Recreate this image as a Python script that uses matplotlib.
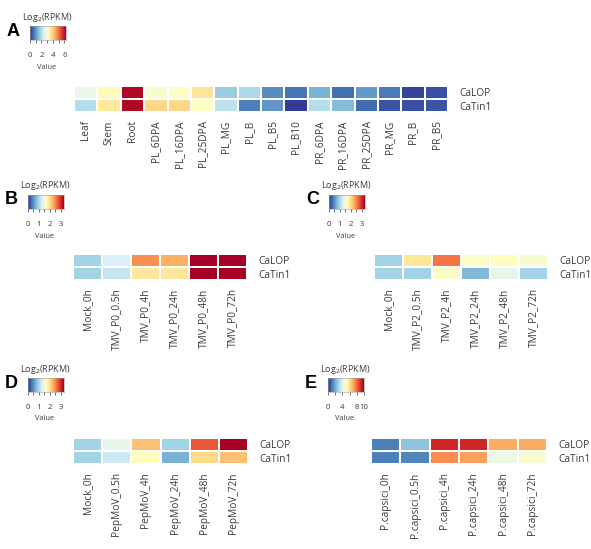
import numpy as np
import matplotlib
matplotlib.use('Agg')
from matplotlib import pyplot as plt

plt.rcParams['font.family'] = ['Open Sans', 'DejaVu Sans']

genes = ['CaLOP', 'CaTin1']

# A - tissues
a_samples = ['Leaf', 'Stem', 'Root', 'PL_6DPA', 'PL_16DPA', 'PL_25DPA', 'PL_MG',
             'PL_B', 'PL_B5', 'PL_B10', 'PR_6DPA', 'PR_16DPA', 'PR_25DPA',
             'PR_MG', 'PR_B', 'PR_B5']
a_calop = [2.7, 3.2, 6.2, 3.0, 3.1, 3.7, 1.7, 1.9, 0.9, 0.65, 1.35, 0.6, 1.05, 0.7, 0.15, 0.25]
a_catin1 = [2.0, 3.6, 6.2, 3.9, 3.9, 3.1, 2.1, 0.75, 1.0, 0.05, 2.0, 1.5, 0.55, 0.3, 0.25, 0.3]

# B - TMV P0
b_samples = ['Mock_0h', 'TMV_P0_0.5h', 'TMV_P0_4h', 'TMV_P0_24h', 'TMV_P0_48h', 'TMV_P0_72h']
b_calop = [0.95, 1.3, 2.45, 2.3, 3.3, 3.3]
b_catin1 = [0.95, 1.15, 1.9, 1.9, 3.3, 3.3]

# C - TMV P2
c_samples = ['Mock_0h', 'TMV_P2_0.5h', 'TMV_P2_4h', 'TMV_P2_24h', 'TMV_P2_48h', 'TMV_P2_72h']
c_calop = [0.95, 1.9, 2.6, 1.6, 1.65, 1.55]
c_catin1 = [0.95, 0.95, 1.6, 0.75, 1.4, 0.95]

# D - PepMoV
d_samples = ['Mock_0h', 'PepMoV_0.5h', 'PepMoV_4h', 'PepMoV_24h', 'PepMoV_48h', 'PepMoV_72h']
d_calop = [0.95, 1.4, 2.2, 0.95, 2.75, 3.3]
d_catin1 = [0.95, 1.2, 1.65, 0.7, 2.0, 2.2]

# E - P. capsici
e_samples = ['P.capsici_0h', 'P.capsici_0.5h', 'P.capsici_4h', 'P.capsici_24h',
             'P.capsici_48h', 'P.capsici_72h']
e_calop = [1.2, 2.5, 9.2, 9.2, 7.0, 7.0]
e_catin1 = [1.2, 1.3, 7.5, 7.2, 4.4, 4.7]

W, H = 591, 549
fig = plt.figure(figsize=(W / 100, H / 100), dpi=100)
cmap = plt.get_cmap('RdYlBu_r')
txt = '#3a3a3a'


def px_axes(x0, y0, x1, y1):
    return fig.add_axes([x0 / W, 1 - y1 / H, (x1 - x0) / W, (y1 - y0) / H])


def heat(box, samples, row1, row2, vmax):
    ax = px_axes(*box)
    data = np.array([row1, row2])
    ax.pcolormesh(data, cmap=cmap, vmin=0, vmax=vmax,
                  edgecolors='white', linewidth=0.2)
    ax.set_xlim(0, len(samples))
    ax.set_ylim(2, 0)
    ax.set_xticks(np.arange(len(samples)) + 0.5)
    ax.set_xticklabels(samples, rotation=90, fontsize=7.3, color=txt)
    ax.set_yticks([0.5, 1.5])
    ax.set_yticklabels(genes, fontsize=7.3, color=txt)
    ax.yaxis.tick_right()
    ax.tick_params(length=0, pad=6)
    ax.tick_params(axis='y', pad=8)
    for s in ax.spines.values():
        s.set_visible(False)
    return ax


def legend(x0, y0, letter, vmax, ticks, minor):
    cax = px_axes(x0, y0, x0 + 36, y0 + 14)
    grad = np.linspace(0, vmax, 256).reshape(1, -1)
    cax.imshow(grad, cmap=cmap, vmin=0, vmax=vmax, aspect='auto',
               extent=[0, vmax, 0, 1])
    cax.set_yticks([])
    cax.set_xticks(ticks)
    cax.set_xticklabels([str(t) for t in ticks], fontsize=5.6, color=txt)
    cax.set_xticks(minor, minor=True)
    cax.tick_params(axis='x', which='both', direction='out', length=2.5,
                    width=0.6, color='#555555', pad=6)
    for s in cax.spines.values():
        s.set_linewidth(0.4)
        s.set_color('#999999')
    fig.text((x0 + 17) / W, 1 - (y0 - 9) / H, r'Log$_2$(RPKM)', fontsize=6.5,
             color=txt, ha='center', va='center')
    fig.text((x0 + 17) / W, 1 - (y0 + 41) / H, 'Value', fontsize=5.3,
             color=txt, ha='center', va='center')
    fig.text((x0 - 23) / W, 1 - (y0 + 5) / H, letter, fontsize=13,
             fontweight='bold', family='Liberation Sans', color='black',
             ha='left', va='center')


legend(30, 26, 'A', 6.3, [0, 2, 4, 6], [1, 3, 5])
heat((74, 86, 448, 112), a_samples, a_calop, a_catin1, 6.3)

legend(28, 195, 'B', 3.3, [0, 1, 2, 3], [0.5, 1.5, 2.5])
heat((73, 254, 247, 280), b_samples, b_calop, b_catin1, 3.3)

legend(329, 195, 'C', 3.3, [0, 1, 2, 3], [0.5, 1.5, 2.5])
heat((374, 254, 548, 280), c_samples, c_calop, c_catin1, 3.3)

legend(28, 378, 'D', 3.3, [0, 1, 2, 3], [0.5, 1.5, 2.5])
heat((73, 438, 248, 464), d_samples, d_calop, d_catin1, 3.3)

legend(328, 378, 'E', 10, [0, 4, 8, 10], [2, 6])
heat((371, 438, 547, 464), e_samples, e_calop, e_catin1, 10)

fig.savefig('out.png', dpi=100)
